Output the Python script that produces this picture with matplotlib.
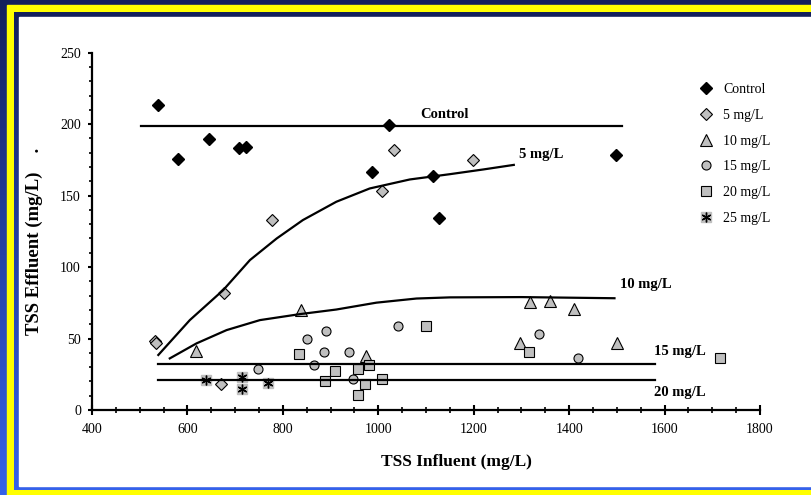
import matplotlib.pyplot as plt
import numpy as np
from matplotlib.patches import Rectangle
from matplotlib.ticker import MultipleLocator

#------------------
# Data
#------------------

control_x = [539, 580, 646, 709, 723, 1023, 986, 1115, 1127, 1499]
control_y = [213.5, 175.3, 189.7, 183.2, 184, 199.5, 166.2, 163.6, 134.5, 178.1]

mg5_x = [1032, 1008, 778, 1198, 676, 531, 534, 671]
mg5_y = [182, 153.1, 132.9, 174.8, 81.8, 48.5, 47.1, 18]

mg10_x = [618, 837, 974, 1318, 1360, 1411, 1298, 1500]
mg10_y = [41.3, 70, 38, 75.5, 76.2, 70.6, 47.1, 47.1]

mg15_x = [748, 850, 891, 887, 938, 865, 948, 1041, 1337, 1418]
mg15_y = [28.9, 49.7, 55.2, 40.3, 40.3, 31.7, 21.7, 58.5, 53.4, 36.6]

mg20_x = [833, 909, 889, 958, 980, 972, 958, 1008, 1100, 1316, 1717]
mg20_y = [38.9, 27.5, 20, 28.9, 31.5, 18.4, 10.5, 21.9, 58.5, 40.6, 36.6]

mg25_x = [638, 714, 714, 769]
mg25_y = [21.2, 22.9, 14.7, 18.9]

# trend lines
control_line_x = [503, 1511]
control_line_y = [198.5, 198.5]

curve5_x = [539, 605, 675, 731, 787, 842, 912, 982, 1066, 1150, 1220, 1284]
curve5_y = [38.5, 62.9, 83.9, 104.9, 120, 132.9, 145.7, 155, 161.3, 165, 168.3, 171.5]

curve10_x = [563, 619, 682, 752, 836, 912, 996, 1080, 1150, 1300, 1495]
curve10_y = [36.1, 46.6, 55.9, 62.9, 67.1, 70.3, 75.1, 78, 78.8, 79, 78.2]

line15_x = [539, 1580]
line15_y = [32.2, 32.2]
line20_x = [539, 1580]
line20_y = [21, 21]

labels = ['Control', '5 mg/L', '10 mg/L', '15 mg/L', '20 mg/L', '25 mg/L']

#------------------
# Figure + frame
#------------------

W, H = 812, 495
fig = plt.figure(figsize=(W / 100, H / 100), dpi=100)

bg = fig.add_axes([0, 0, 1, 1], zorder=-10)
bg.axis('off')

grad = np.linspace(0, 1, 256).reshape(-1, 1)
top = np.array([0x13, 0x20, 0x5c]) / 255
bot = np.array([0x36, 0x62, 0xea]) / 255
img = top + grad[:, :, None] * (bot - top)
bg.imshow(img, extent=[0, W, H, 0], aspect='auto', zorder=0)
bg.add_patch(Rectangle((7, 5), W, H, color='#ffff00', zorder=1))
bg.imshow(img, extent=[14, W, 490, 12], aspect='auto', zorder=2)
bg.add_patch(Rectangle((19, 17), W, 486 - 17, color='white', zorder=3))
bg.set_xlim(0, W)
bg.set_ylim(H, 0)

plt.rcParams['font.family'] = 'Liberation Serif'

#------------------
# Chart
#------------------

ax = fig.add_axes([92 / W, 1 - 410 / H, (760 - 92) / W, (410 - 52.7) / H])
ax.patch.set_alpha(0)

grey = '#bfbfbf'
h1, = ax.plot(control_x, control_y, 'D', color='black', ms=6, ls='none')
h2, = ax.plot(mg5_x, mg5_y, 'D', mfc=grey, mec='black', mew=0.8, ms=6, ls='none')
h3, = ax.plot(mg10_x, mg10_y, '^', mfc=grey, mec='black', mew=0.8, ms=8, ls='none')
h4, = ax.plot(mg15_x, mg15_y, 'o', mfc=grey, mec='black', mew=0.8, ms=6.5, ls='none')
h5, = ax.plot(mg20_x, mg20_y, 's', mfc=grey, mec='black', mew=0.8, ms=6.5, ls='none')
h6a, = ax.plot(mg25_x, mg25_y, 's', mfc=grey, mec=grey, ms=7.5, ls='none')
h6b, = ax.plot(mg25_x, mg25_y, marker=(6, 2, 0), color='black', mew=1.0, ms=7, ls='none')

lw = 1.6
ax.plot(control_line_x, control_line_y, color='black', lw=lw)
ax.plot(curve5_x, curve5_y, color='black', lw=lw)
ax.plot(curve10_x, curve10_y, color='black', lw=lw)
ax.plot(line15_x, line15_y, color='black', lw=lw)
ax.plot(line20_x, line20_y, color='black', lw=lw)

bold = dict(fontsize=10.5, fontweight='bold', va='center')
ax.text(1139, 207, 'Control', ha='center', **bold)
ax.text(1294, 179, '5 mg/L', ha='left', **bold)
ax.text(1507, 88, '10 mg/L', ha='left', **bold)
ax.text(1578, 41, '15 mg/L', ha='left', **bold)
ax.text(1578, 12, '20 mg/L', ha='left', **bold)

ax.set_xlim(400, 1800)
ax.set_ylim(0, 250)
ax.xaxis.set_major_locator(MultipleLocator(200))
ax.xaxis.set_minor_locator(MultipleLocator(50))
ax.yaxis.set_major_locator(MultipleLocator(50))
ax.yaxis.set_minor_locator(MultipleLocator(10))
for s in ['top', 'right']:
    ax.spines[s].set_visible(False)
for s in ['left', 'bottom']:
    ax.spines[s].set_linewidth(1.6)
ax.tick_params(axis='x', which='major', direction='inout', length=6.5, width=1.5, pad=6, labelsize=10)
ax.tick_params(axis='x', which='minor', direction='inout', length=4.5, width=1.2)
ax.tick_params(axis='y', which='major', direction='out', length=3, width=1.5, pad=5, labelsize=10)
ax.tick_params(axis='y', which='minor', direction='out', length=2.2, width=1.2)

fig.text(456 / W, 1 - 462 / H, 'TSS Influent (mg/L)', ha='center', va='center',
         fontsize=12.5, fontweight='bold')
fig.text(34 / W, 1 - 241 / H, 'TSS Effluent (mg/L)    .', ha='center', va='center',
         rotation=90, fontsize=13.5, fontweight='bold')

leg = ax.legend([h1, h2, h3, h4, h5, (h6a, h6b)], labels,
                loc='upper left', bbox_to_anchor=(698 / W, 1 - 83 / H),
                bbox_transform=fig.transFigure, frameon=False, fontsize=10,
                handlelength=1.2, handletextpad=0.6, labelspacing=0.92,
                borderaxespad=0, borderpad=0)

fig.savefig('out.png', dpi=100)
